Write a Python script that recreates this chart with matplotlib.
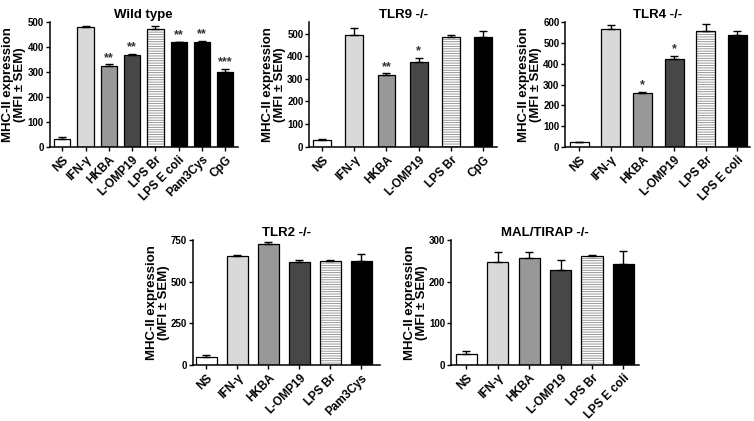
import numpy as np
import matplotlib
import matplotlib.pyplot as plt

matplotlib.rcParams['font.family'] = 'Liberation Sans'
matplotlib.rcParams['font.weight'] = 'bold'
matplotlib.rcParams['hatch.linewidth'] = 0.6

# ---------------- data ----------------
wt_labels = ['NS', 'IFN-γ', 'HKBA', 'L-OMP19', 'LPS Br', 'LPS E coli', 'Pam3Cys', 'CpG']
wt_values = [32, 480, 324, 367, 470, 418, 418, 301]
wt_errors = [5, 5, 6, 5, 14, 2, 7, 10]
wt_stars = ['', '', '**', '**', '', '**', '**', '***']

tlr9_labels = ['NS', 'IFN-γ', 'HKBA', 'L-OMP19', 'LPS Br', 'CpG']
tlr9_values = [30, 496, 315, 376, 486, 487]
tlr9_errors = [3, 27, 9, 15, 8, 23]
tlr9_stars = ['', '', '**', '*', '', '']

tlr4_labels = ['NS', 'IFN-γ', 'HKBA', 'L-OMP19', 'LPS Br', 'LPS E coli']
tlr4_values = [21, 567, 261, 425, 560, 541]
tlr4_errors = [1, 18, 5, 14, 33, 18]
tlr4_stars = ['', '', '*', '*', '', '']

tlr2_labels = ['NS', 'IFN-γ', 'HKBA', 'L-OMP19', 'LPS Br', 'Pam3Cys']
tlr2_values = [50, 655, 725, 620, 625, 626]
tlr2_errors = [13, 3, 15, 8, 2, 40]

mal_labels = ['NS', 'IFN-γ', 'HKBA', 'L-OMP19', 'LPS Br', 'LPS E coli']
mal_values = [26, 248, 257, 228, 262, 243]
mal_errors = [8, 22, 13, 25, 1, 30]

# fill per treatment
fills = {'NS': 'white', 'IFN-γ': '#d9d9d9', 'HKBA': '#989898', 'L-OMP19': '#474747',
         'LPS Br': 'hatch', 'LPS E coli': 'black', 'Pam3Cys': 'black', 'CpG': 'black'}


def panel(rect, title, labels, values, errors, ymax, yticks, width, xlim, stars=None):
    ax = fig.add_axes(rect)
    x = np.arange(len(labels))
    for i, lab in enumerate(labels):
        if fills[lab] == 'hatch':
            ax.bar(x[i], values[i], width, color='white', edgecolor='#8a8a8a',
                   hatch='-------', linewidth=0, zorder=2)
            ax.bar(x[i], values[i], width, fill=False, edgecolor='black',
                   linewidth=0.9, zorder=3)
        else:
            ax.bar(x[i], values[i], width, color=fills[lab], edgecolor='black',
                   linewidth=0.9, zorder=2)
    ax.errorbar(x, values, yerr=[np.zeros(len(values)), errors], fmt='none',
                ecolor='black', elinewidth=1, capsize=3, capthick=1, zorder=4)
    if stars:
        for i, s in enumerate(stars):
            if s:
                ax.text(x[i], values[i] + errors[i] + ymax * 0.005, s, ha='center',
                        va='bottom', fontsize=9, color='#333333')
    ax.set_ylim(0, ymax)
    ax.set_xlim(*xlim)
    ax.set_yticks(yticks)
    ax.set_xticks(x)
    ax.set_xticklabels(labels, rotation=45, ha='right', rotation_mode='anchor',
                       fontsize=8.5, fontweight='bold')
    ax.tick_params(axis='y', labelsize=7, length=3, width=1, pad=1)
    ax.tick_params(axis='x', length=3, width=1, pad=2)
    for t in ax.get_yticklabels():
        t.set_fontweight('bold')
    for sp in ['top', 'right']:
        ax.spines[sp].set_visible(False)
    for sp in ['left', 'bottom']:
        ax.spines[sp].set_linewidth(1.1)
    ax.set_ylabel('MHC-II expression\n(MFI ± SEM)', fontsize=9.5, fontweight='bold',
                  labelpad=1, linespacing=1.0)
    ax.set_title(title, fontsize=9.5, fontweight='bold', pad=3)
    return ax


fig = plt.figure(figsize=(7.54, 4.21), dpi=100)

panel([0.0657, 0.6515, 0.250, 0.2963], 'Wild type', wt_labels, wt_values, wt_errors,
      500, [0, 100, 200, 300, 400, 500], 0.7, (-0.55, 7.55), wt_stars)
panel([0.4098, 0.6515, 0.2494, 0.2955], 'TLR9 -/-', tlr9_labels, tlr9_values, tlr9_errors,
      550, [0, 100, 200, 300, 400, 500], 0.55, (-0.4, 5.43), tlr9_stars)
panel([0.7493, 0.6515, 0.2454, 0.2955], 'TLR4 -/-', tlr4_labels, tlr4_values, tlr4_errors,
      600, [0, 100, 200, 300, 400, 500, 600], 0.6, (-0.45, 5.4), tlr4_stars)
panel([0.2556, 0.133, 0.2484, 0.297], 'TLR2 -/-', tlr2_labels, tlr2_values, tlr2_errors,
      750, [0, 250, 500, 750], 0.7, (-0.44, 5.6))
panel([0.5978, 0.133, 0.2497, 0.297], 'MAL/TIRAP -/-', mal_labels, mal_values, mal_errors,
      300, [0, 100, 200, 300], 0.68, (-0.5, 5.5))

plt.savefig('out.png', dpi=100)
